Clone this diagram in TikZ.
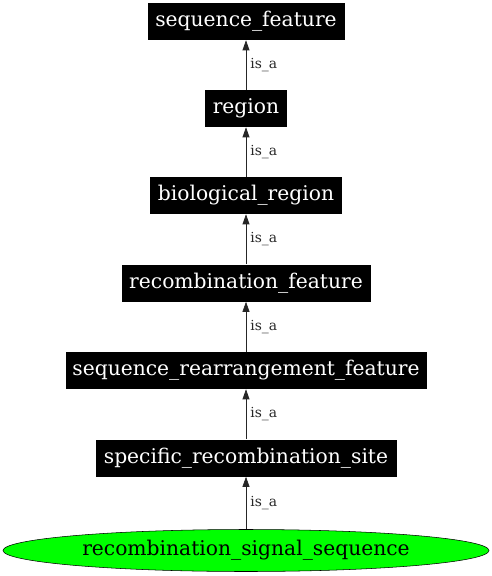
\documentclass[tikz,border=0pt]{standalone}
\usepackage{fontspec}
\setmainfont{DejaVu Serif}
\usetikzlibrary{arrows.meta, positioning, shapes.geometric}
\definecolor{termgreen}{RGB}{0, 255, 0}

\begin{document}
\begin{tikzpicture}[x=0.75pt, y=-0.75pt,
  term/.style={fill=black, text=white, minimum height=37*0.75pt, inner sep=0pt,
               font=\fontsize{15.2}{17}\selectfont},
  focus/.style={ellipse, draw, fill=termgreen, minimum height=42*0.75pt, inner sep=0pt,
                font=\fontsize{15.2}{17}\selectfont},
  isa/.style={font=\fontsize{10.4}{12}\selectfont, right, inner sep=3pt},
  arr/.style={-{Triangle[length=7.5pt, width=5.2pt]}, black!85, line width=0.5pt}
]
  \useasboundingbox (0,0) rectangle (492,576);

  \node[term, minimum width=197*0.75pt] (seqfeat) at (246, 21.5) {sequence\_feature};
  \node[term, minimum width=82*0.75pt]  (region)  at (246, 108.5) {region};
  \node[term, minimum width=192*0.75pt] (bioreg)  at (246, 195.5) {biological\_region};
  \node[term, minimum width=249*0.75pt] (recfeat) at (246, 283) {recombination\_feature};
  \node[term, minimum width=361*0.75pt] (rearr)   at (246, 370.5) {sequence\_rearrangement\_feature};
  \node[term, minimum width=301*0.75pt] (srsite)  at (246, 458) {specific\_recombination\_site};
  \node[focus, minimum width=486*0.75pt] (rss)    at (246, 550.5) {recombination\_signal\_sequence};

  \draw[arr] (region) -- node[isa] {is\_a} (seqfeat);
  \draw[arr] (bioreg) -- node[isa] {is\_a} (region);
  \draw[arr] (recfeat) -- node[isa] {is\_a} (bioreg);
  \draw[arr] (rearr) -- node[isa] {is\_a} (recfeat);
  \draw[arr] (srsite) -- node[isa] {is\_a} (rearr);
  \draw[arr] (rss) -- node[isa] {is\_a} (srsite);
\end{tikzpicture}
\end{document}
